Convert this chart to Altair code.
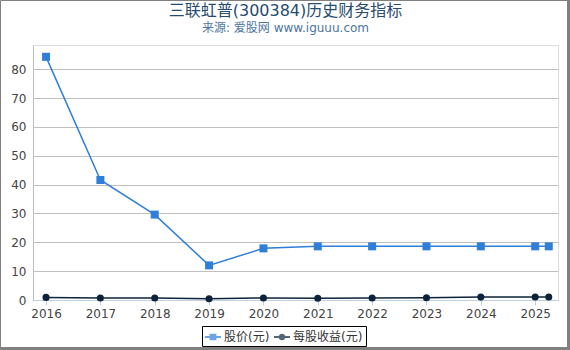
import altair as alt
import pandas as pd

# ---- data ----
years = [2016, 2017, 2018, 2019, 2020, 2021, 2022, 2023, 2024, 2025, 2025.25]
price = [84.3, 41.6, 29.6, 12.0, 17.9, 18.6, 18.6, 18.6, 18.6, 18.6, 18.6]
eps = [0.9, 0.7, 0.7, 0.45, 0.7, 0.6, 0.7, 0.8, 1.0, 1.05, 1.05]
series = ["股价(元)", "每股收益(元)"]
colors = ["#2f7ed8", "#0d233a"]
x_ticks = [2016, 2017, 2018, 2019, 2020, 2021, 2022, 2023, 2024, 2025]
y_ticks = [0, 10, 20, 30, 40, 50, 60, 70, 80]

rows = []
for yr, p, e in zip(years, price, eps):
    rows.append({"year": yr, "series": series[0], "value": p})
    rows.append({"year": yr, "series": series[1], "value": e})
df = pd.DataFrame(rows)

FONT = "DejaVu Sans, Noto Sans CJK SC"
W, H = 525, 255
PL, PT = 33, 45

xscale = alt.Scale(domain=[2015.76, 2025.42], nice=False, zero=False)
xaxis = alt.Axis(values=x_ticks, format="d", title=None, grid=False,
                 tickSize=5, tickColor="#C0D0E0", domainColor="#C0D0E0",
                 labelFontSize=12, labelColor="#444", labelPadding=3,
                 labelFont=FONT)
xenc = alt.X("year:Q", scale=xscale, axis=xaxis)
yenc = alt.Y("value:Q",
             scale=alt.Scale(domain=[0, 88.4], nice=False),
             axis=alt.Axis(values=y_ticks, title=None, grid=True, gridColor="#C0C0C0",
                           ticks=False, domainColor="#C0C0C0",
                           labelFontSize=12, labelColor="#444", labelPadding=7,
                           labelFont=FONT))

base = alt.Chart(df)

def one(i, shape, size):
    d = base.transform_filter(alt.datum.series == series[i])
    ln = d.mark_line(strokeWidth=1.5, color=colors[i]).encode(x=xenc, y=yenc)
    pt = d.mark_point(filled=True, opacity=1, shape=shape, size=size,
                      color=colors[i]).encode(x=xenc, y=yenc)
    return [ln, pt]

# legend symbols: short bar with a square / circle, all filled
sq = "M-1,-0.12H1V0.12H-1Z M-0.42,-0.42H0.42V0.42H-0.42Z"
ci = "M-1,-0.12H1V0.12H-1Z M-0.42,0A0.42,0.42 0 1,1 0.42,0A0.42,0.42 0 1,1 -0.42,0Z"

legend = alt.Legend(
    title=None, orient="none", legendX=169, legendY=281, direction="horizontal",
    strokeColor="#000", padding=3, symbolSize=256, labelFontSize=12,
    labelColor="#333", labelFont=FONT, columnPadding=4, labelOffset=3,
    symbolStrokeWidth=0,
)
# legend-only layer: its marks are shifted out of the x domain and clipped away
legend_layer = base.transform_calculate(hx="datum.year + 100").mark_point(
    filled=True, clip=True).encode(
    x=alt.X("hx:Q", scale=xscale, axis=xaxis),
    y=yenc,
    color=alt.Color("series:N", scale=alt.Scale(domain=series, range=colors), legend=legend),
    shape=alt.Shape("series:N", scale=alt.Scale(domain=series, range=[sq, ci]), legend=legend),
)

# outer frame
one_row = pd.DataFrame({"a": [0]})
frame = alt.Chart(one_row).mark_rect(
    fill=None, stroke="#808080", strokeWidth=1).encode(
    x=alt.value(-PL + 0.5), x2=alt.value(570 - PL - 2.5),
    y=alt.value(-PT + 0.5), y2=alt.value(350 - PT - 2.5))
right_edge = alt.Chart(one_row).mark_rule(
    stroke="#808080", strokeWidth=3).encode(
    x=alt.value(570 - PL - 1.5), y=alt.value(-PT), y2=alt.value(350 - PT))
bottom_edge = alt.Chart(one_row).mark_rule(
    stroke="#808080", strokeWidth=3).encode(
    y=alt.value(350 - PT - 1.5), x=alt.value(-PL), x2=alt.value(570 - PL))

layers = one(0, "square", 64) + one(1, "circle", 50) + [legend_layer, frame, right_edge, bottom_edge]

chart = alt.layer(*layers).properties(
    width=W, height=H,
    autosize=alt.AutoSizeParams(type="none"),
    padding={"left": PL, "top": PT, "right": 570 - PL - W, "bottom": 350 - PT - H},
    title=alt.TitleParams(
        text="三联虹普(300384)历史财务指标",
        subtitle="来源: 爱股网 www.iguuu.com",
        anchor="middle", frame="group", dx=-10, offset=-35,
        fontSize=16, color="#274b6d", font=FONT, fontWeight="normal",
        subtitleFontSize=12, subtitleColor="#4d759e", subtitleFont=FONT,
        subtitlePadding=4,
    ),
).configure_view(stroke=None).configure(background="white")

chart.save("out.html", embed_options={"renderer": "svg", "actions": False})
